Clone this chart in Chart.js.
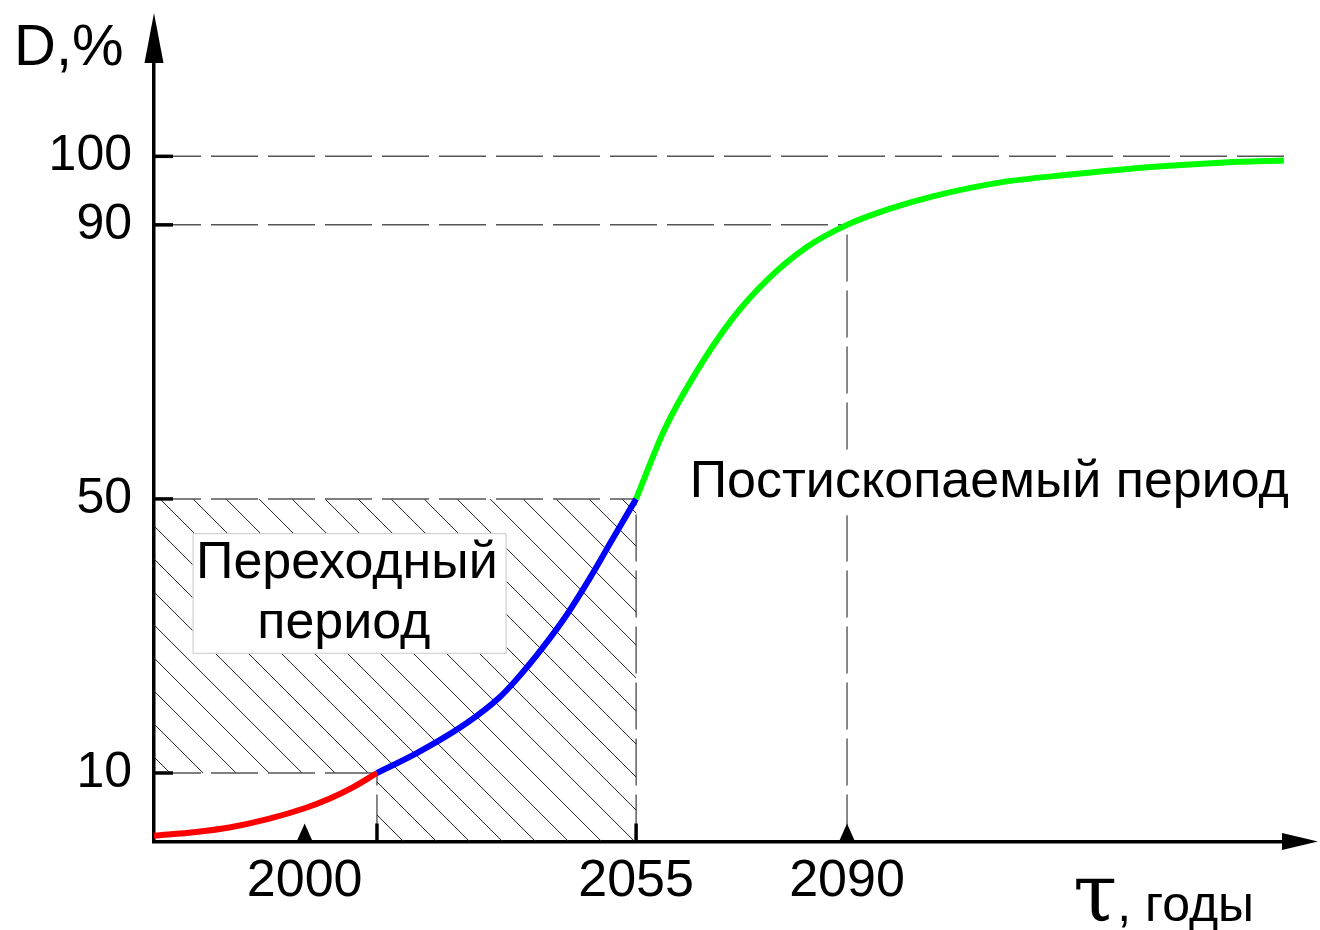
<!DOCTYPE html>
<html>
<head>
<meta charset="utf-8">
<script src="https://cdn.jsdelivr.net/npm/chart.js@4.4.1/dist/chart.umd.min.js"></script>
<style>
html,body{margin:0;padding:0;background:#fff;}
#wrap{width:1320px;height:930px;position:relative;}
</style>
</head>
<body>
<div id="wrap"><canvas id="c" width="1320" height="930"></canvas></div>
<script>
// ---- data (years, D %) ----
const redYears   = [1975, 1982, 1987.5, 1994, 2000, 2004, 2008, 2012];
const redD       = [0.85, 1.4, 2.05, 3.3, 4.85, 6.2, 7.9, 10];
const blueYears  = [2012, 2018.6, 2026.9, 2032.4, 2035.2, 2039.5, 2043.5, 2047.3, 2051, 2055];
const blueD      = [10, 12.9, 17.3, 21.1, 23.7, 28.3, 33.1, 38.4, 44.0, 50];
const greenYears = [2055, 2059.7, 2064.9, 2070.8, 2076.8, 2083.4, 2090, 2096.9, 2104.4, 2115.5, 2126.6, 2141.5, 2152.7, 2162.5];
const greenD     = [50, 60.1, 68.4, 76.1, 82.0, 86.8, 90, 92.3, 94.2, 96.2, 97.3, 98.5, 99.1, 99.4];

const yTickValues = [10, 50, 90, 100];
const yTickLabels = ['10', '50', '90', '100'];
const xTickValues = [2000, 2055, 2090];
const xTickLabels = ['2000', '2055', '2090'];
const xTriangleTicks = [2000, 2090];
const xBarTicks = [2012, 2055];

// reference (dashed) levels
const refLevels    = [100, 90, 50, 10];
const refLevelEnds = [2162.5, 2090, 2055, 2012];
const refYears     = [2090, 2055, 2012];
const refYearTops  = [90, 50, 10];

// transition (hatched) period
const transStart = 2012, transEnd = 2055, transLow = 10, transHigh = 50;

const xMin = 1975, xMax = 2165, yMin = 0, yMax = 118;

const SANS = '"Liberation Sans", Arial, sans-serif';
const SERIF = '"DejaVu Serif", "Liberation Serif", serif';

function pts(xs, ys){ return xs.map((v,i)=>({x:v, y:ys[i]})); }

const datasets = [
  {data: pts(redYears, redD), borderColor:'#ff0000', borderWidth:6, pointRadius:0, cubicInterpolationMode:'monotone', order:1},
  {data: pts(blueYears, blueD), borderColor:'#0000ff', borderWidth:6, pointRadius:0, cubicInterpolationMode:'monotone', order:1},
  {data: pts(greenYears, greenD), borderColor:'#00ff00', borderWidth:6, pointRadius:0, cubicInterpolationMode:'monotone', order:1},
];
refLevels.forEach((lv,i)=>{
  datasets.push({data:[{x:xMin,y:lv},{x:refLevelEnds[i],y:lv}], borderColor:'#555555', borderWidth:1.5, borderDash:[47,10], pointRadius:0, order:5});
});
refYears.forEach((yr,i)=>{
  datasets.push({data:[{x:yr,y:0},{x:yr,y:refYearTops[i]}], borderColor:'#111111', borderWidth:1, borderDash:[47,9], pointRadius:0, order:5});
});

const deco = {
  id:'deco',
  beforeDatasetsDraw(chart){
    const {ctx, scales:{x,y}} = chart;
    const L = x.getPixelForValue(xMin), K = x.getPixelForValue(transStart), R = x.getPixelForValue(transEnd);
    const T = y.getPixelForValue(transHigh), M = y.getPixelForValue(transLow), B = y.getPixelForValue(0);
    ctx.save();
    ctx.beginPath();
    ctx.moveTo(L,T); ctx.lineTo(R,T); ctx.lineTo(R,B); ctx.lineTo(K,B); ctx.lineTo(K,M); ctx.lineTo(L,M); ctx.closePath();
    ctx.clip();
    const H = B - T, step = 33;
    ctx.strokeStyle = '#222'; ctx.lineWidth = 1;
    ctx.beginPath();
    let s0 = L + 6 - Math.ceil(H/step)*step;
    for (let s = s0; s < R; s += step){ ctx.moveTo(s, T); ctx.lineTo(s+H, T+H); }
    ctx.stroke();
    ctx.restore();
  },
  afterDatasetsDraw(chart){
    const {ctx, scales:{x,y}} = chart;
    ctx.save();
    // transition box
    const bx1 = x.getPixelForValue(1981.4), bx2 = x.getPixelForValue(2033.5);
    const by1 = y.getPixelForValue(45.0), by2 = y.getPixelForValue(27.4);
    ctx.fillStyle = '#fff'; ctx.fillRect(bx1, by1, bx2-bx1, by2-by1);
    ctx.strokeStyle = '#c8c8c8'; ctx.lineWidth = 1; ctx.strokeRect(bx1+0.5, by1+0.5, bx2-bx1-1, by2-by1-1);
    ctx.fillStyle = '#000'; ctx.font = '52px ' + SANS; ctx.textAlign = 'center'; ctx.textBaseline = 'alphabetic';
    ctx.fillText('Переходный', x.getPixelForValue(2007.0), y.getPixelForValue(38.4));
    ctx.fillText('период', x.getPixelForValue(2006.5), y.getPixelForValue(29.7));
    // post-fossil label with white background
    const px1 = x.getPixelForValue(2062.2), px2 = x.getPixelForValue(2165);
    const py1 = y.getPixelForValue(57.1), py2 = y.getPixelForValue(47.6);
    ctx.fillStyle = '#fff'; ctx.fillRect(px1, py1, px2-px1, py2-py1);
    ctx.fillStyle = '#000'; ctx.textAlign = 'left';
    ctx.fillText('Постископаемый период', x.getPixelForValue(2063.9), y.getPixelForValue(50.3));
    ctx.restore();
  },
  afterDraw(chart){
    const {ctx, scales:{x,y}} = chart;
    const x0 = x.getPixelForValue(xMin), y0 = y.getPixelForValue(0);
    ctx.save();
    ctx.fillStyle = '#000'; ctx.strokeStyle = '#000';
    // y arrow
    ctx.beginPath(); ctx.moveTo(x0, 13); ctx.lineTo(x0-9.5, 63); ctx.lineTo(x0+9.5, 63); ctx.closePath(); ctx.fill();
    // x arrow
    ctx.beginPath(); ctx.moveTo(1318, y0); ctx.lineTo(1282, y0-8.5); ctx.lineTo(1282, y0+8.5); ctx.closePath(); ctx.fill();
    // y inward ticks
    ctx.lineWidth = 3.5;
    yTickValues.forEach(v=>{ const py = y.getPixelForValue(v); ctx.beginPath(); ctx.moveTo(x0, py); ctx.lineTo(x0+19, py); ctx.stroke(); });
    // x bar ticks
    xBarTicks.forEach(v=>{ const px = x.getPixelForValue(v); ctx.beginPath(); ctx.moveTo(px, y0); ctx.lineTo(px, y0-18); ctx.stroke(); });
    // x triangle ticks
    xTriangleTicks.forEach(v=>{ const px = x.getPixelForValue(v); ctx.beginPath(); ctx.moveTo(px, y0-18); ctx.lineTo(px-8, y0); ctx.lineTo(px+8, y0); ctx.closePath(); ctx.fill(); });
    // axis titles
    ctx.textBaseline = 'alphabetic'; ctx.textAlign = 'left';
    ctx.font = '58px ' + SANS; ctx.fillText('D,%', 14, 65);
    ctx.font = '80px ' + SERIF; ctx.fillText('τ', 1073, 921);
    const tw = ctx.measureText('τ').width;
    ctx.font = '50px ' + SANS; ctx.fillText(', годы', 1073 + tw, 921);
    ctx.restore();
  }
};

new Chart(document.getElementById('c'), {
  type:'line',
  data:{datasets},
  options:{
    responsive:false, animation:false, events:[],
    layout:{padding:{top:33, right:21, bottom:0, left:0}},
    plugins:{legend:{display:false}, tooltip:{enabled:false}},
    scales:{
      x:{type:'linear', min:xMin, max:xMax,
         grid:{display:false, drawTicks:false},
         border:{display:true, color:'#000', width:3.5},
         afterBuildTicks:(s)=>{ s.ticks = xTickValues.map(v=>({value:v})); },
         afterFit:(s)=>{ s.height = 88.5; s.paddingLeft = 0; s.paddingRight = 0; },
         ticks:{padding:9, color:'#000', font:{family:SANS, size:52}, maxRotation:0, autoSkip:false,
                callback:(v)=>{ const i = xTickValues.indexOf(v); return i>=0 ? xTickLabels[i] : ''; }}},
      y:{type:'linear', min:yMin, max:yMax,
         grid:{display:false, drawTicks:false},
         border:{display:true, color:'#000', width:3.5},
         afterBuildTicks:(s)=>{ s.ticks = yTickValues.map(v=>({value:v})); },
         afterFit:(s)=>{ s.width = 154; s.paddingTop = 0; s.paddingBottom = 0; },
         ticks:{padding:22, color:'#000', font:{family:SANS, size:50}, autoSkip:false,
                callback:(v)=>{ const i = yTickValues.indexOf(v); return i>=0 ? yTickLabels[i] : ''; }}}
    }
  },
  plugins:[deco]
});
</script>
</body>
</html>
